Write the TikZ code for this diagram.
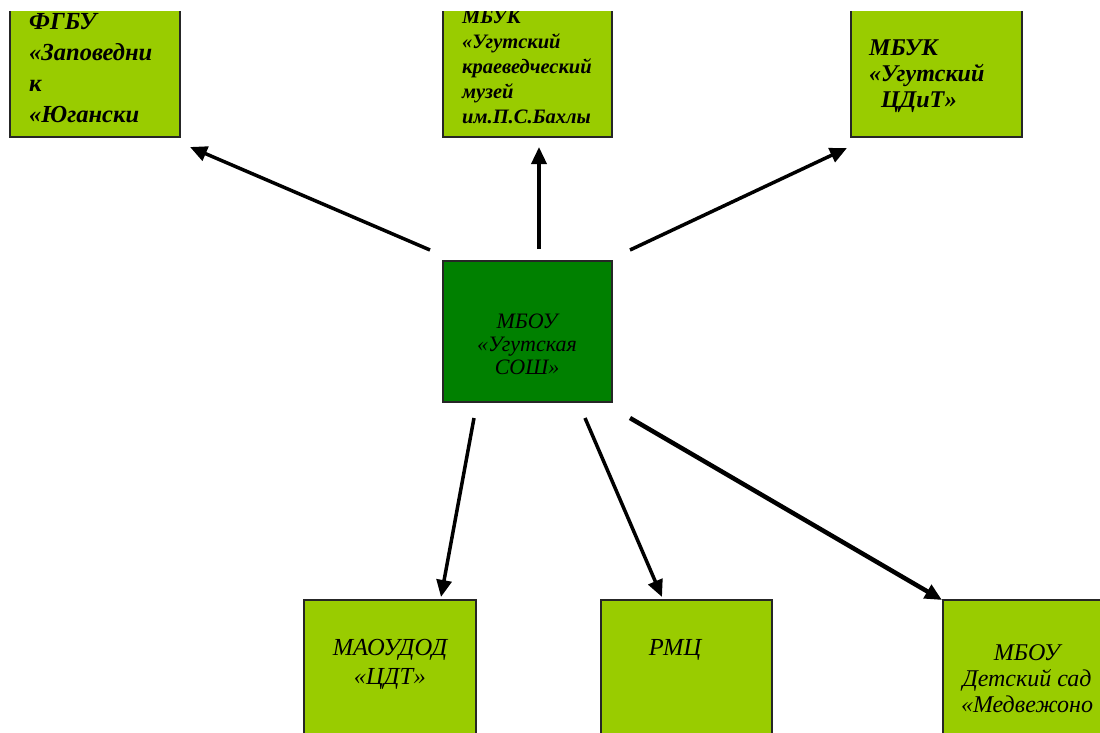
\documentclass[tikz,border=0pt]{standalone}
\usepackage{fontspec}
\setmainfont{Liberation Serif}
\usetikzlibrary{arrows.meta}
\definecolor{lgreen}{HTML}{99CC00}
\definecolor{dgreen}{HTML}{008000}
\newcommand{\fsz}[2]{\fontsize{#1}{#2}\selectfont}
\tikzset{
  boxstyle/.style={draw=black!85, line width=1.2pt, fill=lgreen, inner sep=0pt},
  mainbox/.style={boxstyle, fill=dgreen},
  txtstyle/.style={inner sep=0pt, font=\itshape},
  conn/.style={line width=3.5pt, -{Triangle[length=17pt,width=15pt]}},
}
\begin{document}
\begin{tikzpicture}[x=1pt,y=-1pt]
\useasboundingbox (0,0) rectangle (1100,733);
\begin{scope}
\clip (0,12) rectangle (1100,733);
% boxes
\node[boxstyle, minimum width=170pt, minimum height=147pt] (b1) at (95,63.5) {};
\node[boxstyle, minimum width=169pt, minimum height=147pt] (b2) at (527.5,63.5) {};
\node[boxstyle, minimum width=171pt, minimum height=147pt] (b3) at (936.5,63.5) {};
\node[mainbox, minimum width=169pt, minimum height=141pt] (c) at (527.5,331.5) {};
\node[boxstyle, minimum width=172pt, minimum height=150pt] (d1) at (390,675) {};
\node[boxstyle, minimum width=171pt, minimum height=150pt] (d2) at (686.5,675) {};
\node[boxstyle, minimum width=177pt, minimum height=150pt] (d3) at (1031.5,675) {};
% texts
\node[txtstyle, font=\bfseries\itshape\fsz{24.5}{31}, anchor=north west, align=left] (t1) at (29,7.3)
  {\strut ФГБУ\\«Заповедни\\к\\«Югански};
\node[txtstyle, font=\bfseries\itshape\fsz{20.5}{25}, anchor=north west, align=left] (t2) at (462,5.5)
  {\strut МБУК\\«Угутский\\краеведческий\\музей\\им.П.С.Бахлы};
\node[txtstyle, font=\bfseries\itshape\fsz{24}{26}, anchor=north west, align=left] (t3) at (869,36.8)
  {\strut МБУК\\«Угутский\\\hspace*{12pt}ЦДиТ»};
\node[txtstyle, font=\itshape\fsz{22}{23}, anchor=north, align=center] (tc) at (527,311.9)
  {\strut МБОУ\\«Угутская\\СОШ»};
\node[txtstyle, font=\itshape\fsz{24.5}{29}, anchor=north, align=center] (td1) at (390,634.7)
  {\strut МАОУДОД\\«ЦДТ»};
\node[txtstyle, font=\itshape\fsz{24.5}{29}, anchor=north, align=center] (td2) at (675,634.7)
  {\strut РМЦ};
\node[txtstyle, font=\itshape\fsz{24}{26}, anchor=north, align=center] (td3) at (1027,641.8)
  {\strut МБОУ\\Детский сад\\«Медвежоно};
\end{scope}
% connector end points
\coordinate (s1) at (430,250); \coordinate (e1) at (190,147);
\coordinate (s2) at (539,249); \coordinate (e2) at (539,147);
\coordinate (s3) at (630,250); \coordinate (e3) at (847,148);
\coordinate (s4) at (474,418); \coordinate (e4) at (441,597);
\coordinate (s5) at (585,418); \coordinate (e5) at (662,597);
\coordinate (s6) at (630,418); \coordinate (e6) at (942,600);
\draw[conn] (s1) -- (e1);
\draw[conn] (s2) -- (e2);
\draw[conn] (s3) -- (e3);
\draw[conn] (s4) -- (e4);
\draw[conn] (s5) -- (e5);
\draw[conn, line width=4.5pt] (s6) -- (e6);
\end{tikzpicture}
\end{document}
